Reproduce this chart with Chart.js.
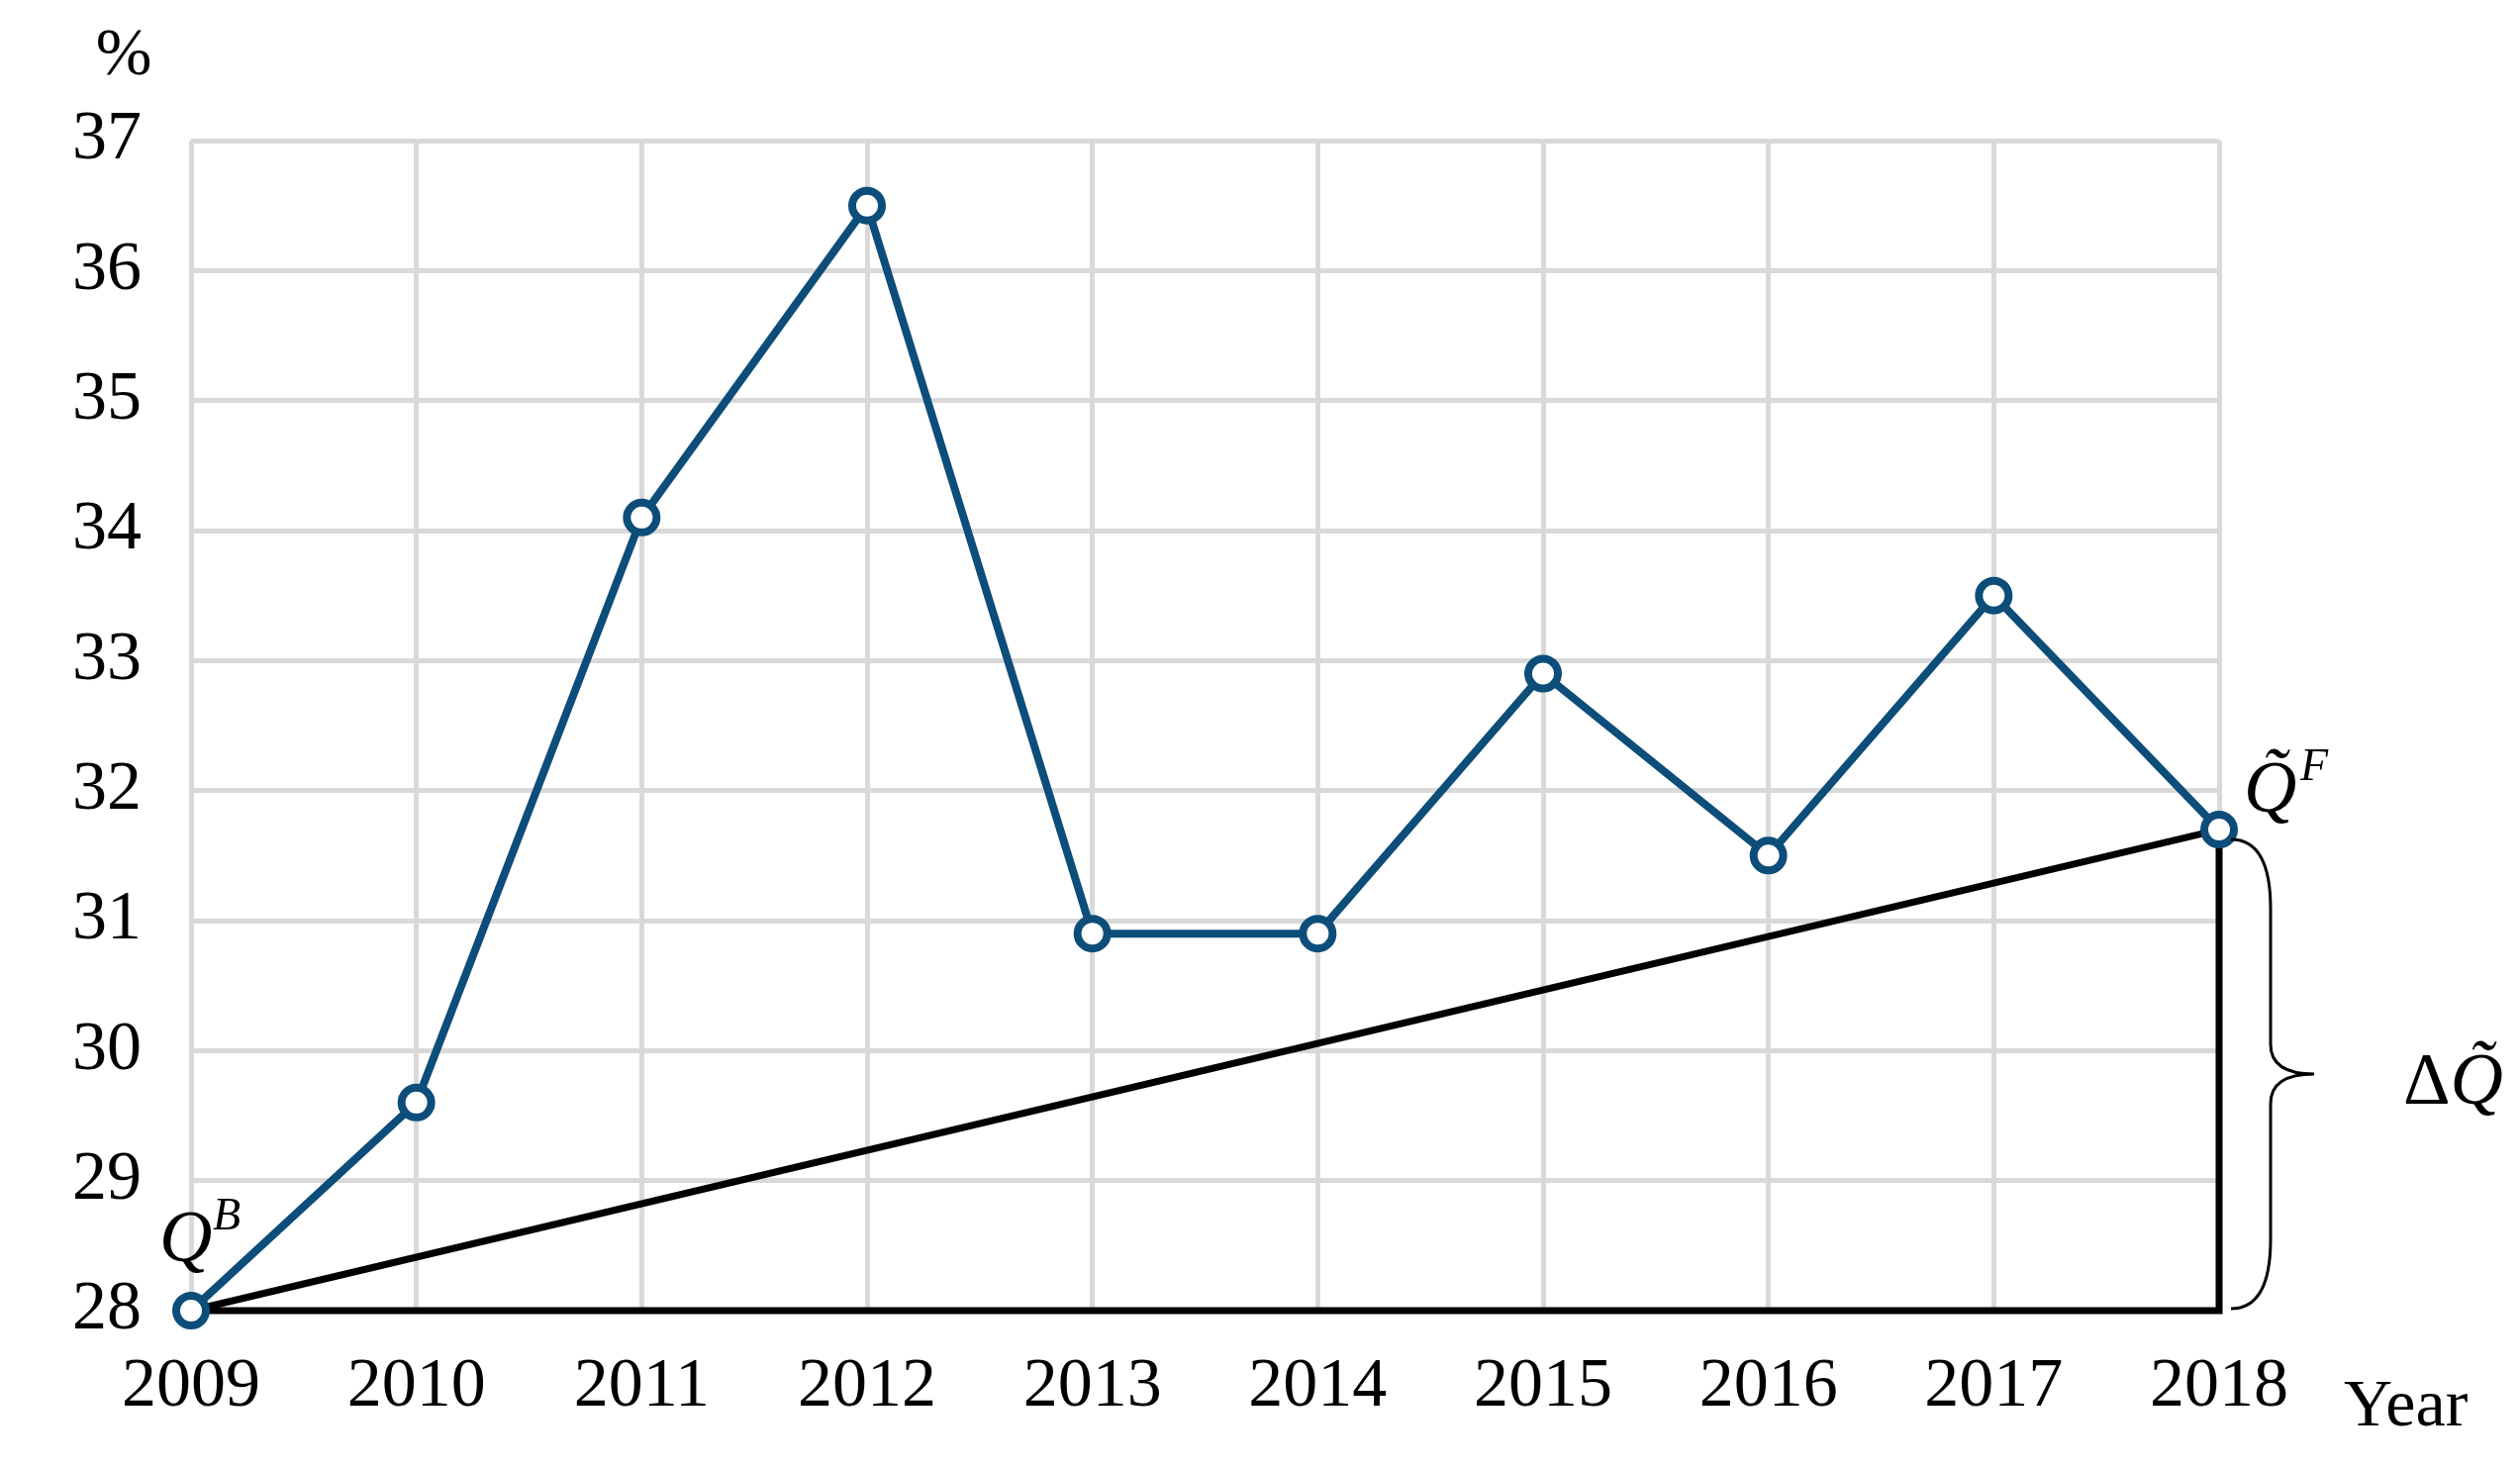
<!DOCTYPE html>
<html>
<head>
<meta charset="utf-8">
<script src="https://cdn.jsdelivr.net/npm/chart.js@4/dist/chart.umd.min.js"></script>
<style>
  html, body { margin: 0; padding: 0; background: #fff; }
  #wrap { width: 2546px; height: 1484px; }
</style>
</head>
<body>
<div id="wrap"><canvas id="chart"></canvas></div>
<script>
const years  = [2009, 2010, 2011, 2012, 2013, 2014, 2015, 2016, 2017, 2018];
const shares = [28.0, 29.6, 34.1, 36.5, 30.9, 30.9, 32.9, 31.5, 33.5, 31.7];
const yTicks = [28, 29, 30, 31, 32, 33, 34, 35, 36, 37];

const first = { x: years[0], y: shares[0] };
const last  = { x: years[years.length - 1], y: shares[shares.length - 1] };

const SERIF = "'Liberation Serif', 'DejaVu Serif', serif";
const BLUE = "#0d4d7a";

const annotations = {
  id: "annotations",
  afterDraw(chart) {
    const { ctx, scales: { x, y } } = chart;
    ctx.save();
    ctx.fillStyle = "#000";
    ctx.textBaseline = "alphabetic";

    ctx.font = `68px ${SERIF}`;
    ctx.textAlign = "center";
    ctx.fillText("%", 125, 75);
    ctx.textAlign = "left";
    ctx.fillText("Year", 2368, 1440);

    // Q^B
    const qbx = x.getPixelForValue(first.x), qby = y.getPixelForValue(first.y);
    ctx.font = `italic 74px ${SERIF}`;
    ctx.fillText("Q", qbx - 32, qby - 50);
    ctx.font = `italic 46px ${SERIF}`;
    ctx.fillText("B", qbx + 22, qby - 82);

    // Q~^F
    const qfx = x.getPixelForValue(last.x), qfy = y.getPixelForValue(last.y);
    ctx.font = `italic 74px ${SERIF}`;
    ctx.fillText("Q\u0303", qfx + 25, qfy - 18);
    ctx.font = `italic 46px ${SERIF}`;
    ctx.fillText("F", qfx + 82, qfy - 50);

    // brace
    const top = qfy + 10, bot = y.getPixelForValue(28) - 2;
    const mid = (top + bot) / 2;
    const bx = qfx + 12, w = 40;
    ctx.strokeStyle = "#000";
    ctx.lineWidth = 3;
    ctx.beginPath();
    ctx.moveTo(bx, top);
    ctx.quadraticCurveTo(bx + w, top, bx + w, top + 70);
    ctx.lineTo(bx + w, mid - 30);
    ctx.quadraticCurveTo(bx + w, mid, bx + w + 44, mid);
    ctx.quadraticCurveTo(bx + w, mid, bx + w, mid + 30);
    ctx.lineTo(bx + w, bot - 70);
    ctx.quadraticCurveTo(bx + w, bot, bx, bot);
    ctx.stroke();

    ctx.font = `74px ${SERIF}`;
    ctx.fillText("\u0394", 2428, mid + 30);
    const dw = ctx.measureText("\u0394").width;
    ctx.font = `italic 74px ${SERIF}`;
    ctx.fillText("Q\u0303", 2428 + dw, mid + 30);
    ctx.restore();
  }
};

new Chart(document.getElementById("chart"), {
  type: "line",
  data: {
    datasets: [
      {
        data: [first, last],
        borderColor: "#000", borderWidth: 7, pointRadius: 0, order: 2, clip: false,
      },
      {
        data: [first, { x: last.x, y: 28 }, last],
        borderColor: "#000", borderWidth: 7, pointRadius: 0, order: 2, clip: false,
      },
      {
        data: years.map((yr, i) => ({ x: yr, y: shares[i] })),
        borderColor: BLUE, borderWidth: 8,
        pointRadius: 15, pointBorderWidth: 8,
        pointBackgroundColor: "#fff", pointBorderColor: BLUE,
        order: 1, clip: false,
      },
    ],
  },
  options: {
    responsive: true,
    maintainAspectRatio: false,
    animation: false,
    layout: { padding: { top: 142, right: 304, left: 0, bottom: 0 } },
    plugins: { legend: { display: false }, tooltip: { enabled: false } },
    scales: {
      x: {
        type: "linear", min: 2009, max: 2018,
        afterBuildTicks: s => { s.ticks = years.map(v => ({ value: v })); },
        afterFit: s => { s.height = 160; },
        ticks: { color: "#000", font: { family: SERIF, size: 70 }, padding: 36, callback: v => String(v) },
        grid: { color: "#d9d9d9", lineWidth: 5, drawTicks: false },
        border: { display: false },
      },
      y: {
        min: 28, max: 37,
        afterBuildTicks: s => { s.ticks = yTicks.map(v => ({ value: v })); },
        afterFit: s => { s.width = 193; },
        ticks: { color: "#000", font: { family: SERIF, size: 70 }, padding: 50 },
        grid: { color: "#d9d9d9", lineWidth: 5, drawTicks: false },
        border: { display: false },
      },
    },
  },
  plugins: [annotations],
});
</script>
</body>
</html>
